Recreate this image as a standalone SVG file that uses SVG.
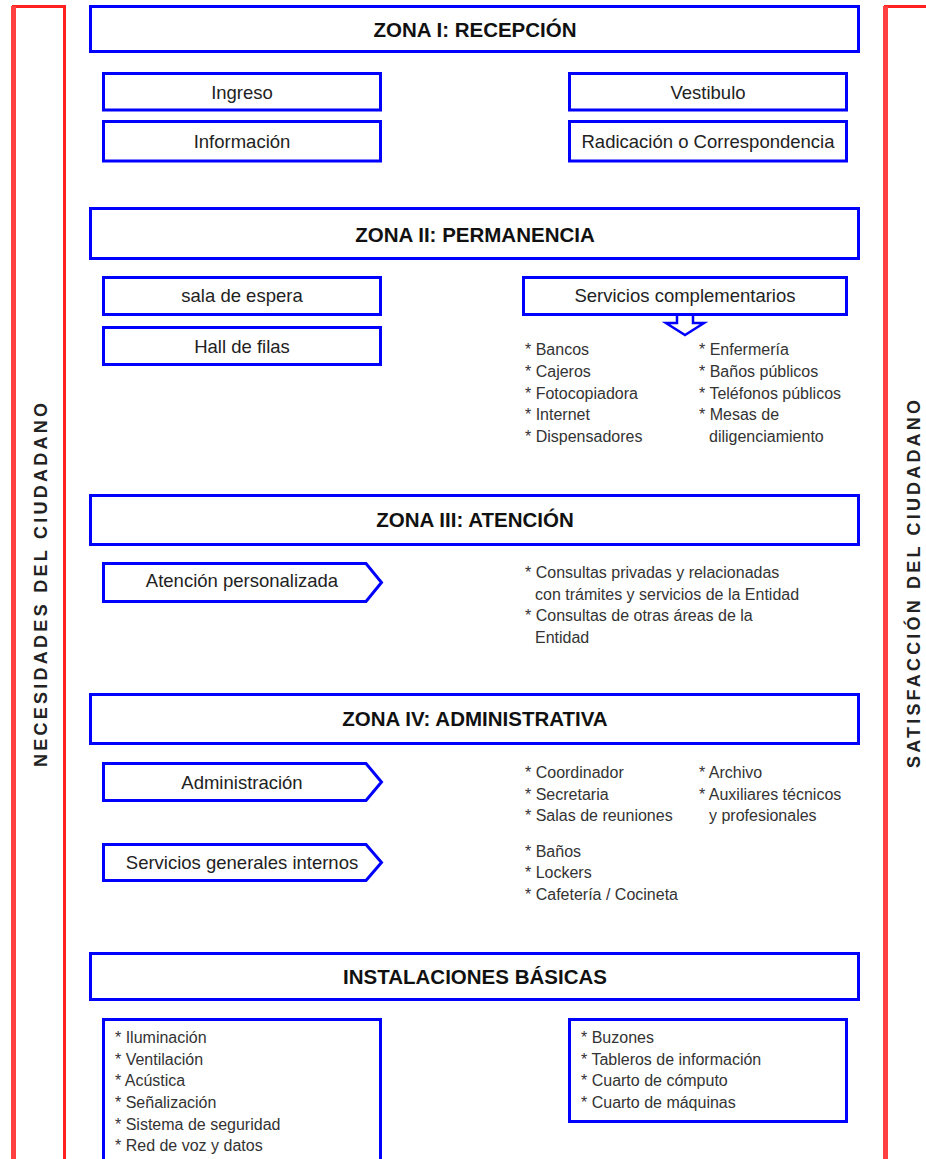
<svg xmlns="http://www.w3.org/2000/svg" width="926" height="1159" viewBox="0 0 926 1159">
<style>
.hdr{fill:#fff;stroke:#0000ff;stroke-width:3}
.box{fill:#fff;stroke:#0000ff;stroke-width:3}
.ht{font-family:"Liberation Sans",Arial,sans-serif;font-weight:bold;font-size:20.5px;fill:#111;text-anchor:middle}
.bt{font-family:"Liberation Sans",Arial,sans-serif;font-size:18.5px;fill:#222;text-anchor:middle}
.lt{font-family:"Liberation Sans",Arial,sans-serif;font-size:16px;fill:#333}
.vt{font-family:"Liberation Sans",Arial,sans-serif;font-weight:bold;font-size:18px;fill:#222;text-anchor:middle}
.red{fill:none;stroke:#ff2020;stroke-width:3}
.redk{fill:none;stroke:#ff4040;stroke-width:5}
</style>
<rect width="926" height="1159" fill="#fff"/>

<g id="brackets">
  <path class="red" d="M13.5,1159 V6.5 H64.5 V1159"/>
  <line class="redk" x1="13.5" y1="6" x2="13.5" y2="1159"/>
  <path class="red" d="M885.5,1159 V6.5 H926"/>
  <line class="redk" x1="885.5" y1="6" x2="885.5" y2="1159"/>
</g>

<g id="necesidades">
  <text class="vt" transform="translate(47 585) rotate(-90)" x="0" y="0" textLength="364" lengthAdjust="spacing">NECESIDADES DEL CIUDADANO</text>
</g>
<g id="satisfaccion">
  <text class="vt" transform="translate(920 584) rotate(-90)" x="0" y="0" textLength="368" lengthAdjust="spacing">SATISFACCIÓN DEL CIUDADANO</text>
</g>

<g id="zona1">
  <rect class="hdr" x="90.5" y="6.5" width="768" height="45"/>
  <text class="ht" x="475" y="37">ZONA I: RECEPCIÓN</text>
</g>
<g id="ingreso">
  <rect class="box" x="103.5" y="73.5" width="277" height="36.5"/>
  <text class="bt" x="242" y="98.5">Ingreso</text>
</g>
<g id="informacion">
  <rect class="box" x="103.5" y="121.5" width="277" height="39.5"/>
  <text class="bt" x="242" y="148">Información</text>
</g>
<g id="vestibulo">
  <rect class="box" x="569.5" y="73.5" width="277" height="36.5"/>
  <text class="bt" x="708" y="98.5">Vestibulo</text>
</g>
<g id="radicacion">
  <rect class="box" x="569.5" y="121.5" width="277" height="39.5"/>
  <text class="bt" x="708" y="148">Radicación o Correspondencia</text>
</g>

<g id="zona2">
  <rect class="hdr" x="90.5" y="208.5" width="768" height="50"/>
  <text class="ht" x="475" y="242">ZONA II: PERMANENCIA</text>
</g>
<g id="sala">
  <rect class="box" x="103.5" y="277.5" width="277" height="37"/>
  <text class="bt" x="242" y="302">sala de espera</text>
</g>
<g id="hall">
  <rect class="box" x="103.5" y="327.5" width="277" height="37"/>
  <text class="bt" x="242" y="353">Hall de filas</text>
</g>
<g id="servicios">
  <rect class="box" x="523.5" y="277.5" width="323" height="37"/>
  <text class="bt" x="685" y="302">Servicios complementarios</text>
</g>
<g id="lista-servicios">
  <text class="lt" x="525" y="355">* Bancos</text>
  <text class="lt" x="525" y="377">* Cajeros</text>
  <text class="lt" x="525" y="399">* Fotocopiadora</text>
  <text class="lt" x="525" y="420">* Internet</text>
  <text class="lt" x="525" y="442">* Dispensadores</text>
  <text class="lt" x="699" y="355">* Enfermería</text>
  <text class="lt" x="699" y="377">* Baños públicos</text>
  <text class="lt" x="699" y="399">* Teléfonos públicos</text>
  <text class="lt" x="699" y="420">* Mesas de</text>
  <text class="lt" x="709" y="442">diligenciamiento</text>
</g>

<g id="zona3">
  <rect class="hdr" x="90.5" y="495.5" width="768" height="49"/>
  <text class="ht" x="475" y="527">ZONA III: ATENCIÓN</text>
</g>
<g id="atencion">
  <polygon class="box" points="103.5,563.5 366,563.5 381.5,582.5 366,601.5 103.5,601.5"/>
  <text class="bt" x="242" y="587">Atención personalizada</text>
</g>
<g id="lista-atencion">
  <text class="lt" x="525" y="578">* Consultas privadas y relacionadas</text>
  <text class="lt" x="535" y="600">con trámites y servicios de la Entidad</text>
  <text class="lt" x="525" y="621">* Consultas de otras áreas de la</text>
  <text class="lt" x="535" y="643">Entidad</text>
</g>

<g id="zona4">
  <rect class="hdr" x="90.5" y="694.5" width="768" height="49"/>
  <text class="ht" x="475" y="726">ZONA IV: ADMINISTRATIVA</text>
</g>
<g id="administracion">
  <polygon class="box" points="103.5,763.5 366,763.5 381.5,782 366,800.5 103.5,800.5"/>
  <text class="bt" x="242" y="789">Administración</text>
</g>
<g id="lista-administracion">
  <text class="lt" x="525" y="778">* Coordinador</text>
  <text class="lt" x="525" y="800">* Secretaria</text>
  <text class="lt" x="525" y="821">* Salas de reuniones</text>
  <text class="lt" x="699" y="778">* Archivo</text>
  <text class="lt" x="699" y="800">* Auxiliares técnicos</text>
  <text class="lt" x="709" y="821">y profesionales</text>
</g>
<g id="generales">
  <polygon class="box" points="103.5,844.5 366,844.5 381.5,862.5 366,880.5 103.5,880.5"/>
  <text class="bt" x="242" y="869">Servicios generales internos</text>
</g>
<g id="lista-generales">
  <text class="lt" x="525" y="857">* Baños</text>
  <text class="lt" x="525" y="878">* Lockers</text>
  <text class="lt" x="525" y="900">* Cafetería / Cocineta</text>
</g>

<g id="instalaciones">
  <rect class="hdr" x="90.5" y="953.5" width="768" height="46"/>
  <text class="ht" x="475" y="984">INSTALACIONES BÁSICAS</text>
</g>
<g id="inst-izq">
  <rect class="box" x="103.5" y="1019.5" width="277" height="160"/>
  <text class="lt" x="115" y="1043">* Iluminación</text>
  <text class="lt" x="115" y="1065">* Ventilación</text>
  <text class="lt" x="115" y="1086">* Acústica</text>
  <text class="lt" x="115" y="1108">* Señalización</text>
  <text class="lt" x="115" y="1130">* Sistema de seguridad</text>
  <text class="lt" x="115" y="1151">* Red de voz y datos</text>
</g>
<g id="inst-der">
  <rect class="box" x="569.5" y="1019.5" width="277" height="102"/>
  <text class="lt" x="581" y="1043">* Buzones</text>
  <text class="lt" x="581" y="1065">* Tableros de información</text>
  <text class="lt" x="581" y="1086">* Cuarto de cómputo</text>
  <text class="lt" x="581" y="1108">* Cuarto de máquinas</text>
</g>

<g id="connectors">
  <path d="M677,316 V323 H666 L685,335 L704,323 H693 V316" fill="#fff" stroke="#0000ff" stroke-width="2.5" stroke-linejoin="miter"/>
</g>
</svg>
